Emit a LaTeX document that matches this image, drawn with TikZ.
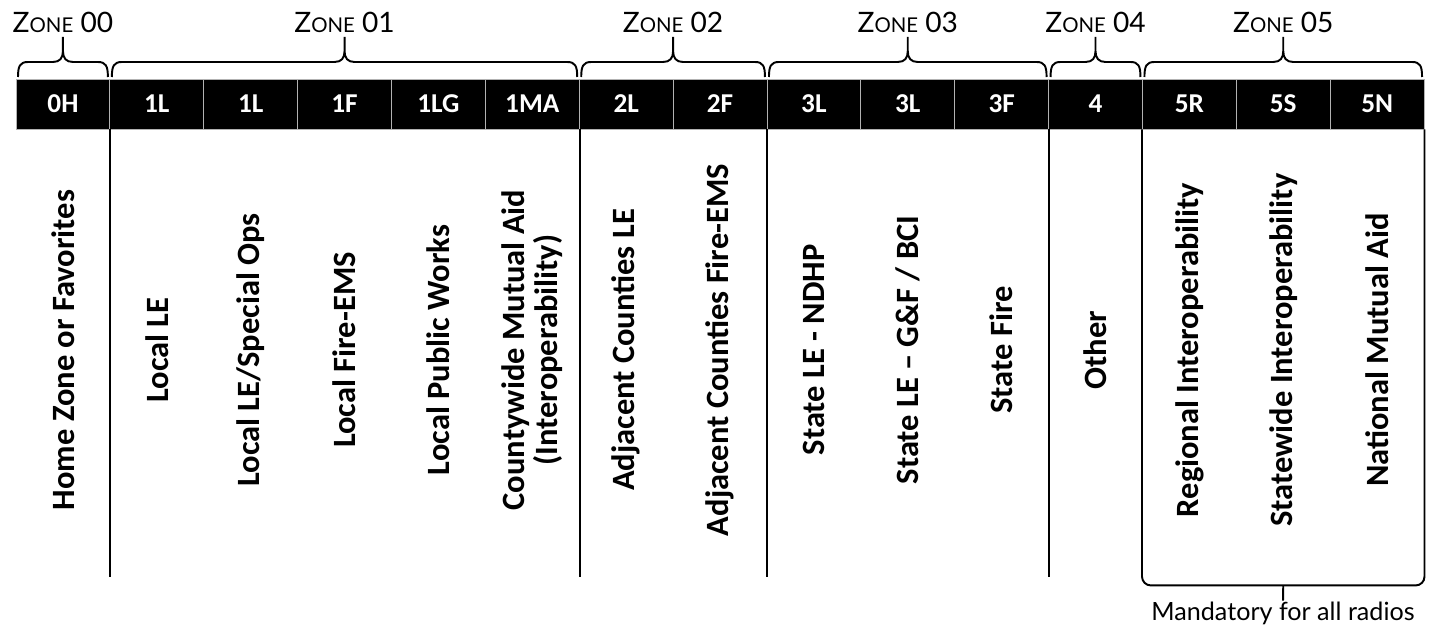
\documentclass[tikz,border=0pt]{standalone}
\usepackage{fontspec}
\setmainfont{Carlito}
\newfontfamily\gillfont{Lato}
\usetikzlibrary{math}
\usetikzlibrary{calc}
\usetikzlibrary{positioning}

\tikzset{
  chan/.style={rectangle, fill=black, draw=black!30, line width=0.5pt,
    minimum width=1.8774cm, minimum height=1cm, inner sep=0pt,
    text=white, font=\bfseries\fontsize{15.5}{15}\selectfont},
  usage/.style={rotate=90, align=center, inner sep=0pt,
    font=\bfseries\fontsize{18.5}{19}\selectfont},
  zone/.style={inner sep=0pt, font=\gillfont\fontsize{16}{16}\selectfont},
  zbrace/.style={line width=1.1pt, line join=round},
}
\newcommand{\zonename}[1]{Z{\fontsize{11.6}{11}\selectfont ONE} #1}

\begin{document}
\begin{tikzpicture}[x=0.02cm, y=-0.02cm, line width=1.1pt]

  \tikzmath{
    \cw   = 93.87; % width of one channel cell
    \xo   = 16;    % left edge of the channel bar
    \yb   = 104;   % middle of the channel bar
    \yl   = 350;   % middle of the rotated texts
  }

  \useasboundingbox (0,0) rectangle (1429,628);

  % channel bar
  \foreach \i/\lab in {0/0H, 1/1L, 2/1L, 3/1F, 4/1LG, 5/1MA, 6/2L, 7/2F,
                       8/3L, 9/3L, 10/3F, 11/4, 12/5R, 13/5S, 14/5N} {
    \node[chan] (c\i) at ({\xo+(\i+0.5)*\cw}, \yb) {\lab};
  }

  % what each channel is for
  \foreach \i/\txt in {0/Home Zone or Favorites, 1/Local LE,
                       2/{Local LE/Special Ops}, 3/Local Fire-EMS,
                       4/Local Public Works,
                       5/{Countywide Mutual Aid\\(Interoperability)},
                       6/Adjacent Counties LE, 7/Adjacent Counties Fire-EMS,
                       8/State LE - NDHP, 9/{State LE -- G\&F / BCI},
                       10/State Fire, 11/Other,
                       12/Regional Interoperability,
                       13/Statewide Interoperability,
                       14/National Mutual Aid} {
    \node[usage] (u\i) at ({\xo+(\i+0.5)*\cw}, \yl) {\txt};
  }

  % lines between the zones
  \foreach \i in {0,5,7,10} {
    \coordinate (e\i) at ($(c\i.south east)+(0,448)$);
    \draw (c\i.south east) -- (e\i);
  }

  % zone 05 bracket
  \coordinate (m0) at ($(c12.south west)+(0,456)$);
  \coordinate (m1) at (c14.south east |- m0);
  \coordinate (m2) at (c13 |- m0);
  \draw[zbrace, rounded corners=5pt] (c12.south west) -- (m0) -- (m1) -- (c14.south east);
  \node[zone, font=\gillfont\fontsize{14.3}{14}\selectfont] (mand) at (1283, 613)
    {Mandatory for all radios};
  \draw[zbrace] (m2) -- (mand.north);

  % zone braces
  \foreach \a/\b/\z in {0/0/00, 1/5/01, 6/7/02, 8/10/03, 11/11/04, 12/14/05} {
    \tikzmath{
      \xa = \xo + \a*\cw + 2;
      \xb = \xo + (\b+1)*\cw - 2;
      \xm = (\xa+\xb)/2;
    }
    \node[zone] (z\z) at (\xm, 22) {\zonename{\z}};
    \draw[zbrace] (\xa,77) .. controls (\xa,66) and ({\xa+2},62) .. ({\xa+10},62)
      -- ({\xm-10},62) .. controls ({\xm-3},62) and (\xm,58) .. (\xm,51) -- (\xm,37)
      (\xm,51) .. controls (\xm,58) and ({\xm+3},62) .. ({\xm+10},62)
      -- ({\xb-10},62) .. controls ({\xb-2},62) and (\xb,66) .. (\xb,77);
  }

\end{tikzpicture}
\end{document}
